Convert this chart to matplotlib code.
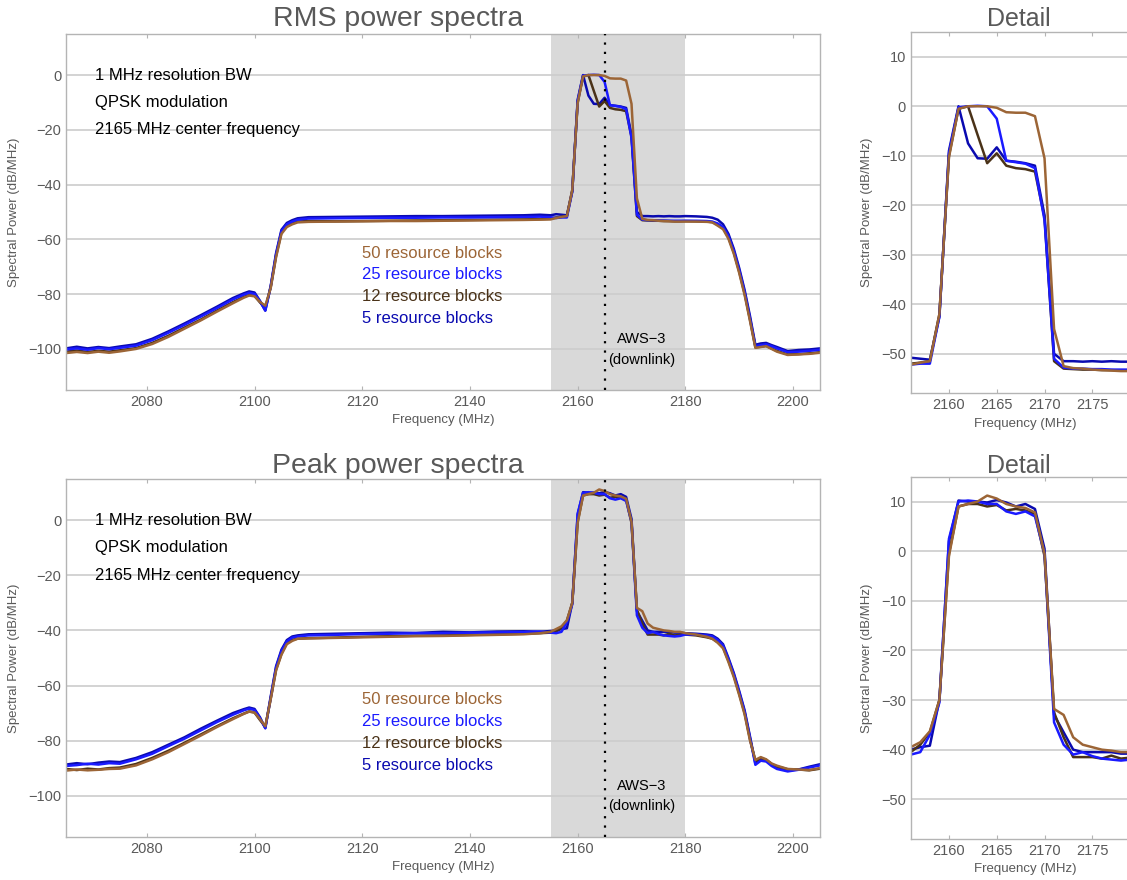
import matplotlib
matplotlib.use("Agg")
import matplotlib.pyplot as plt

plt.rcParams['font.family'] = ['Liberation Sans', 'DejaVu Sans']

# frequency grid (MHz) shared by all traces
freq_left = [2065, 2067, 2069, 2071, 2073, 2075, 2078, 2081, 2084, 2087, 2090, 2093,
             2096, 2098, 2099, 2100, 2101, 2102, 2103, 2104, 2105, 2106, 2107, 2108,
             2110, 2115, 2120, 2125, 2130, 2135, 2140, 2145, 2150, 2153, 2155]
freq_band = list(range(2156, 2181))
freq_right = [2182, 2184, 2185, 2186, 2187, 2188, 2189, 2190, 2191, 2192, 2193, 2194,
              2195, 2196, 2197, 2199, 2201, 2203, 2205]
freq = freq_left + freq_band + freq_right

# RMS spectra (dB/MHz)
rms_5 = ([-99.8, -99.2, -99.8, -99.3, -99.7, -99.1, -98.3, -96.3, -93.6, -90.7, -87.7, -84.6,
          -81.4, -79.7, -79.0, -79.4, -82.4, -86.0, -77.0, -65.0, -56.5, -54.0, -53.0, -52.3,
          -51.9, -51.8, -51.7, -51.6, -51.5, -51.5, -51.4, -51.3, -51.2, -51.0, -51.2]
         + [-50.8, -51.0, -51.2, -42.5, -9.0, 0.0, -7.5, -10.5, -10.6, -8.3, -11.0, -11.2, -11.5,
            -12.0, -22.0, -50.0, -51.5, -51.5, -51.6, -51.5, -51.6, -51.5, -51.6, -51.6, -51.5]
         + [-51.6, -51.8, -52.1, -52.8, -54.5, -58.0, -63.5, -70.5, -78.5, -88.0, -98.5, -98.0,
            -97.8, -98.6, -99.3, -100.8, -100.4, -100.2, -99.8])
rms_25 = ([-100.2, -99.8, -100.3, -99.7, -100.1, -99.6, -98.8, -96.8, -94.1, -91.2, -88.2, -85.1,
           -81.9, -80.2, -79.5, -79.9, -82.6, -86.0, -77.3, -65.5, -57.0, -54.5, -53.5, -52.8,
           -52.4, -52.3, -52.2, -52.1, -52.1, -52.0, -52.0, -51.9, -51.8, -51.7, -51.9]
          + [-52.2, -52.0, -52.0, -42.5, -9.5, -0.2, 0.0, 0.1, 0.0, -2.5, -11.0, -11.3, -11.6,
             -12.5, -23.0, -51.0, -52.8, -53.0, -53.0, -53.1, -53.1, -53.2, -53.2, -53.2, -53.2]
          + [-53.2, -53.3, -53.5, -54.2, -55.5, -58.8, -64.2, -71.2, -79.2, -88.8, -99.0, -98.6,
             -98.3, -99.0, -99.8, -101.2, -101.0, -100.7, -100.3])
rms_12 = ([-101.0, -100.6, -101.1, -100.7, -101.0, -100.5, -99.7, -97.8, -95.2, -92.2, -89.3, -86.0,
           -82.9, -81.0, -80.3, -80.6, -83.0, -85.0, -77.5, -66.0, -57.5, -55.2, -54.2, -53.5,
           -53.3, -53.4, -53.3, -53.2, -53.1, -53.0, -52.9, -52.8, -52.7, -52.6, -52.5]
          + [-52.0, -51.8, -51.5, -42.0, -10.0, -0.5, 0.0, -5.8, -11.5, -9.5, -12.0, -12.5, -12.7,
             -13.2, -22.5, -51.5, -53.0, -53.1, -53.2, -53.2, -53.3, -53.3, -53.4, -53.4, -53.3]
          + [-53.4, -53.5, -53.7, -54.6, -55.8, -59.3, -64.8, -71.8, -79.8, -89.3, -99.4, -99.2,
             -98.9, -99.8, -100.7, -102.0, -101.9, -101.6, -101.2])
rms_50 = ([-101.5, -101.1, -101.5, -101.0, -101.4, -100.9, -100.0, -98.2, -95.6, -92.6, -89.6, -86.4,
           -83.3, -81.3, -80.5, -80.8, -82.8, -84.2, -77.8, -66.5, -58.0, -55.5, -54.5, -53.8,
           -53.6, -53.5, -53.4, -53.3, -53.3, -53.2, -53.1, -53.0, -52.9, -52.8, -52.7]
          + [-52.2, -51.8, -51.5, -42.0, -10.3, -0.5, 0.0, 0.0, 0.0, -0.3, -1.2, -1.3, -1.3,
             -2.0, -10.5, -45.0, -52.5, -52.9, -53.0, -53.2, -53.3, -53.4, -53.5, -53.5, -53.5]
          + [-53.5, -53.6, -53.8, -55.0, -56.3, -59.8, -65.3, -72.3, -80.3, -89.8, -99.6, -99.3,
             -99.0, -100.0, -101.0, -102.2, -102.0, -101.8, -101.4])

# Peak spectra (dB/MHz)
peak_5 = ([-88.7, -88.2, -88.6, -88.0, -87.6, -87.8, -86.3, -84.2, -81.5, -78.8, -75.7, -72.8,
           -70.0, -68.6, -68.0, -68.5, -71.5, -75.5, -64.0, -53.0, -47.0, -43.5, -42.2, -41.8,
           -41.4, -41.2, -41.0, -40.8, -40.9, -40.5, -40.7, -40.4, -40.3, -40.5, -40.2]
          + [-40.0, -39.5, -39.2, -30.0, 2.0, 10.2, 10.0, 10.0, 9.8, 10.3, 9.8, 9.0, 9.5,
             8.5, 0.5, -33.0, -36.5, -40.0, -40.5, -40.5, -40.5, -40.5, -40.8, -40.8, -41.0]
          + [-41.2, -41.5, -41.8, -43.0, -45.0, -50.0, -55.5, -62.0, -69.0, -78.5, -88.3, -87.0,
             -87.2, -88.5, -89.8, -90.8, -90.5, -89.5, -88.6])
peak_25 = ([-89.2, -88.9, -88.4, -88.7, -88.2, -88.4, -86.8, -84.8, -82.0, -79.3, -76.3, -73.3,
            -70.6, -69.0, -68.4, -68.9, -71.8, -75.5, -64.5, -53.5, -47.5, -44.0, -42.6, -42.2,
            -41.8, -41.6, -41.3, -41.2, -41.0, -41.0, -40.8, -40.7, -40.6, -40.4, -40.8]
           + [-41.0, -40.5, -37.0, -30.5, 2.5, 10.0, 10.2, 10.0, 9.5, 9.5, 8.0, 7.5, 8.0,
              7.0, -0.5, -34.5, -39.0, -41.0, -40.5, -41.3, -41.8, -42.0, -42.2, -42.0, -41.5]
           + [-41.5, -41.8, -42.2, -43.5, -45.5, -50.5, -56.0, -62.5, -69.5, -79.0, -88.8, -87.3,
              -87.6, -89.2, -90.3, -91.2, -90.6, -89.8, -89.0])
peak_12 = ([-90.3, -90.7, -90.2, -90.5, -90.0, -89.8, -88.5, -86.3, -83.7, -80.8, -77.8, -74.8,
            -71.9, -70.2, -69.4, -69.8, -72.5, -75.0, -64.8, -54.2, -48.5, -44.5, -43.4, -43.0,
            -42.8, -42.6, -42.3, -42.1, -41.9, -41.8, -41.6, -41.4, -41.2, -41.0, -40.8]
           + [-40.5, -39.0, -36.5, -30.0, -0.5, 9.0, 9.5, 9.5, 9.0, 9.3, 8.2, 8.5, 8.2,
              7.5, -1.0, -32.5, -37.5, -41.5, -41.5, -41.5, -41.8, -41.2, -41.8, -41.6, -41.5]
           + [-41.8, -42.5, -43.0, -44.2, -46.2, -51.0, -56.5, -63.0, -70.0, -79.5, -87.5, -86.3,
              -87.0, -88.5, -89.4, -90.4, -90.5, -90.8, -90.2])
peak_50 = ([-90.9, -90.5, -90.8, -90.6, -90.3, -90.2, -89.0, -86.8, -84.2, -81.2, -78.2, -75.1,
            -72.2, -70.3, -69.5, -69.8, -72.2, -74.8, -65.0, -54.5, -48.8, -45.0, -43.8, -43.0,
            -42.9, -42.7, -42.5, -42.3, -42.1, -42.0, -41.8, -41.6, -41.4, -41.0, -40.5]
           + [-39.5, -38.5, -36.3, -30.0, -1.0, 9.0, 9.5, 10.0, 11.2, 10.6, 9.5, 9.0, 8.7,
              7.8, -0.5, -31.8, -33.0, -37.5, -39.0, -39.5, -40.0, -40.2, -40.5, -40.5, -41.0]
           + [-41.5, -42.3, -43.0, -44.5, -46.5, -51.5, -57.0, -63.5, -70.5, -80.0, -87.0, -86.0,
              -86.8, -88.3, -89.1, -90.3, -90.5, -90.7, -90.0])

labels = ['50 resource blocks', '25 resource blocks', '12 resource blocks', '5 resource blocks']
colors = ['#9c6536', '#1a1aff', '#4a3218', '#0a0ab0']
notes = ['1 MHz resolution BW', 'QPSK modulation', '2165 MHz center frequency']

band_lo, band_hi, center_f = 2155, 2180, 2165

GRAY = '#595959'
SPINE = '#b4b4b4'


def style_axes(ax):
    for s in ax.spines.values():
        s.set_color(SPINE)
        s.set_linewidth(1.0)
    ax.grid(axis='y', color='#cccccc', lw=1.2)
    ax.set_axisbelow(True)
    ax.tick_params(axis='both', colors=SPINE, labelcolor=GRAY, labelsize=10.5,
                   length=3, direction='in', top=True)
    ax.tick_params(axis='y', length=0)
    ax.set_xlabel('Frequency (MHz)', color=GRAY, fontsize=9.5, labelpad=4)
    ax.set_ylabel('Spectral Power (dB/MHz)', color=GRAY, fontsize=9.5, labelpad=6)


def draw_traces(ax, series):
    # draw 5 RB first so the 50 RB trace sits on top
    for vals, c in list(zip(series, colors))[::-1]:
        ax.plot(freq, vals, color=c, lw=1.8, solid_joinstyle='round')


fig = plt.figure(figsize=(11.27, 8.8), dpi=100)

main_boxes = [[0.0586, 0.5568, 0.669, 0.4046], [0.0586, 0.0489, 0.669, 0.4068]]
detail_boxes = [[0.8081, 0.5530, 0.2035, 0.4106], [0.8081, 0.0466, 0.2035, 0.4117]]
titles = ['RMS power spectra', 'Peak power spectra']
title_y = [0.978, 0.471]
data = [[rms_50, rms_25, rms_12, rms_5], [peak_50, peak_25, peak_12, peak_5]]

for box, dbox, title, ty, series in zip(main_boxes, detail_boxes, titles, title_y, data):
    ax = fig.add_axes(box)
    ax.axvspan(band_lo, band_hi, color='#d9d9d9', lw=0, zorder=0)
    style_axes(ax)
    draw_traces(ax, series)
    ax.axvline(center_f, color='black', lw=1.6, ls=(0, (1, 3.2)), zorder=3)
    ax.set_xlim(2065, 2205)
    ax.set_ylim(-115, 15)
    ax.set_xticks(range(2080, 2201, 20))
    ax.set_yticks(range(-100, 1, 20))
    fig.text(0.353, ty, title, color=GRAY, fontsize=20.5, ha='center', va='center')
    for i, t in enumerate(notes):
        ax.text(2070.4, -10 * i, t, fontsize=12, color='black', va='center', ha='left')
    for i, (t, c) in enumerate(zip(labels, colors)):
        ax.text(2120, -65 - 8 * i, t, fontsize=12, color=c, va='center', ha='left')
    ax.text(2171.8, -96.4, 'AWS\u22123', fontsize=10.5, color='black', ha='center', va='center')
    ax.text(2171.8, -103.9, '(downlink)', fontsize=10.5, color='black', ha='center', va='center')

    axd = fig.add_axes(dbox)
    style_axes(axd)
    draw_traces(axd, series)
    axd.set_xlim(2156, 2180)
    axd.set_ylim(-58, 15)
    axd.set_xticks(range(2160, 2176, 5))
    axd.set_yticks(range(-50, 11, 10))
    fig.text(0.904, ty, 'Detail', color=GRAY, fontsize=18, ha='center', va='center')

fig.savefig('out.png', dpi=100)
